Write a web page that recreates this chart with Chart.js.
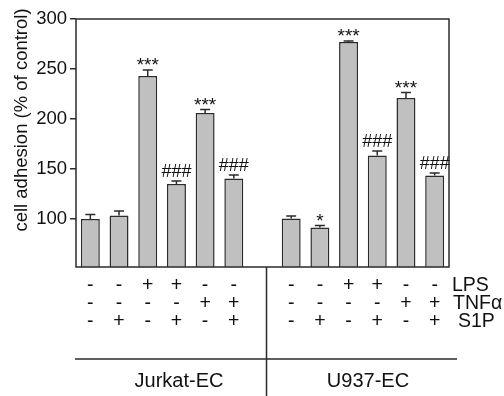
<!DOCTYPE html>
<html>
<head>
<meta charset="utf-8">
<script src="https://cdn.jsdelivr.net/npm/chart.js@4"></script>
<style>
  html, body { margin: 0; padding: 0; background: #fff; }
  #wrap { width: 504px; height: 396px; }
</style>
</head>
<body>
<div id="wrap"><canvas id="chart"></canvas></div>
<script>
// categories: 6 Jurkat-EC, one empty slot, 6 U937-EC
const categories = ["J1", "J2", "J3", "J4", "J5", "J6", "gap", "U1", "U2", "U3", "U4", "U5", "U6"];
const adhesion = [100, 103.5, 243, 135, 206, 140.5, null, 100.5, 91.5, 277, 163.5, 221, 143.5];
const errors = [4.5, 4.5, 6, 3, 3.5, 3.5, null, 2.5, 2, 1, 4.5, 5.5, 2.5];
const marks = ["", "", "***", "###", "***", "###", "", "", "*", "***", "###", "***", "###"];
const lps = ["-", "-", "+", "+", "-", "-", "", "-", "-", "+", "+", "-", "-"];
const tnf = ["-", "-", "-", "-", "+", "+", "", "-", "-", "-", "-", "+", "+"];
const s1p = ["-", "+", "-", "+", "-", "+", "", "-", "+", "-", "+", "-", "+"];
const yTicks = [100, 150, 200, 250, 300];
const groups = ["Jurkat-EC", "U937-EC"];

const FONT = "'Liberation Sans', Arial, sans-serif";
const INK = "#111";

// frame, error bars, stars, condition table
const extras = {
  id: "extras",
  afterDatasetsDraw(chart) {
    const { ctx, chartArea: a, scales: { x, y } } = chart;
    ctx.save();
    ctx.strokeStyle = "#2b2b2b";
    ctx.lineWidth = 1.5;
    ctx.strokeRect(a.left, a.top, a.right - a.left, a.bottom - a.top);

    // error bars (upper only) + significance marks
    ctx.fillStyle = INK;
    ctx.textAlign = "center";
    ctx.textBaseline = "alphabetic";
    adhesion.forEach((v, i) => {
      if (v == null) return;
      const cx = x.getPixelForValue(i);
      const yTop = y.getPixelForValue(v);
      const yErr = y.getPixelForValue(v + errors[i]);
      ctx.beginPath();
      ctx.moveTo(cx, yTop);
      ctx.lineTo(cx, yErr);
      ctx.moveTo(cx - 5, yErr);
      ctx.lineTo(cx + 5, yErr);
      ctx.stroke();
      const m = marks[i];
      if (m) {
        if (m[0] === "#") {
          ctx.font = "18px " + FONT;
          ctx.fillText(m, cx, yErr - 4);
        } else {
          ctx.font = "19px " + FONT;
          ctx.fillText(m, cx, yErr + 1);
        }
      }
    });

    // condition rows
    ctx.font = "19.5px " + FONT;
    ctx.textBaseline = "middle";
    const rows = [[lps, 286], [tnf, 304], [s1p, 322]];
    rows.forEach(([row, ry]) => {
      row.forEach((s, i) => {
        if (s) ctx.fillText(s, x.getPixelForValue(i), ry);
      });
    });
    ctx.textAlign = "left";
    ctx.fillText("LPS", 452, 286);
    ctx.fillText("TNF\u03b1", 453, 304);
    ctx.fillText("S1P", 458, 322);

    // separators
    const divX = x.getPixelForValue(6) + 4;
    ctx.beginPath();
    ctx.moveTo(divX, a.bottom);
    ctx.lineTo(divX, 396);
    ctx.moveTo(75, 359);
    ctx.lineTo(457, 359);
    ctx.stroke();

    ctx.font = "20px " + FONT;
    ctx.textAlign = "center";
    ctx.fillText(groups[0], 179, 381);
    ctx.fillText(groups[1], 368, 381);

    // y axis title
    ctx.font = "18.5px " + FONT;
    ctx.translate(22, 120);
    ctx.rotate(-Math.PI / 2);
    ctx.fillText("cell adhesion (% of control)", 0, 0);
    ctx.restore();
  }
};

new Chart(document.getElementById("chart"), {
  type: "bar",
  data: {
    labels: categories,
    datasets: [{
      data: adhesion,
      backgroundColor: "#c0c0c0",
      borderColor: "#2b2b2b",
      borderWidth: 1.5,
      borderSkipped: false,
      barPercentage: 0.66,
      categoryPercentage: 1.0
    }]
  },
  options: {
    responsive: true,
    maintainAspectRatio: false,
    animation: false,
    layout: { padding: { left: 0, top: 19, right: 55, bottom: 129 } },
    plugins: { legend: { display: false }, tooltip: { enabled: false } },
    scales: {
      x: { display: false },
      y: {
        min: 52,
        max: 300,
        afterBuildTicks: (scale) => { scale.ticks = yTicks.map(v => ({ value: v })); },
        afterFit: (scale) => { scale.width = 76; },
        border: { display: false },
        grid: { drawOnChartArea: false, drawTicks: true, tickLength: 6, color: "#2b2b2b", lineWidth: 1.5 },
        ticks: { padding: 3, color: INK, font: { family: FONT, size: 18.5 } }
      }
    }
  },
  plugins: [extras]
});
</script>
</body>
</html>
